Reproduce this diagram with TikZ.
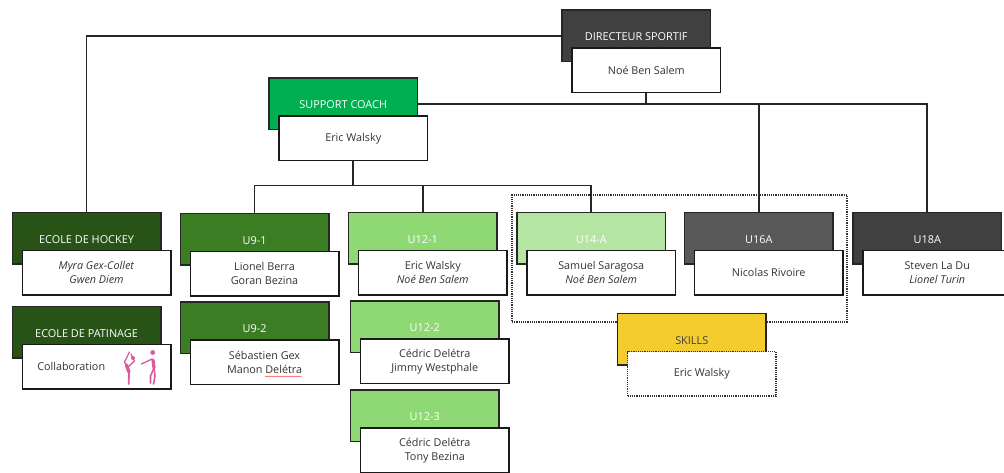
\documentclass[tikz,border=0pt]{standalone}
\usepackage{fontspec}
\setmainfont{Open Sans}
\usetikzlibrary{positioning,decorations.pathmorphing}
\definecolor{sportifgray}{HTML}{404040}
\definecolor{coachgreen}{HTML}{00B050}
\definecolor{ecolegreen}{HTML}{275317}
\definecolor{ninegreen}{HTML}{3B7D23}
\definecolor{twelvegreen}{HTML}{8ED973}
\definecolor{fourteengreen}{HTML}{B4E5A2}
\definecolor{sixteengray}{HTML}{595959}
\definecolor{skillsyellow}{HTML}{F5CC2E}
\definecolor{skatepink}{HTML}{D95AA0}
\definecolor{nametext}{HTML}{333333}
\tikzset{
    role/.style = {
        draw = black!85,
        line width = 1.6pt,
        anchor = north west,
        minimum width = 148.5pt,
        minimum height = 51.5pt,
        outer sep = 0pt,
        inner sep = 0pt,
        text = white,
        text height = 10pt,
        text depth = 0pt,
        font = \fontsize{10.9}{13}\selectfont,
    },
    person/.style = {
        draw = black!90,
        fill = white,
        line width = 1.6pt,
        below right = -13.5pt and -138.5pt of #1,
        minimum width = 148.5pt,
        minimum height = 44.5pt,
        outer sep = 0pt,
        inner sep = 0pt,
        align = center,
        text = nametext,
        font = \fontsize{10.8}{14}\selectfont,
    },
    link/.style = {
        draw = black!85,
        line width = 1.6pt,
    },
    dotted box/.style = {
        draw = black!80,
        line width = 1.2pt,
        densely dotted,
    },
    skate/.style = {
        draw = skatepink,
        line cap = round,
    },
}
\begin{document}
\begin{tikzpicture}[x=1pt,y=-1pt]
            \clip (0,0) rectangle (1004,472);

            \node[dotted box, anchor=north west, minimum width=335pt, minimum height=127pt, outer sep=0pt] (squad) at (512,195) {};

            \node[role, fill=sportifgray] (sportif) at (562,10) {DIRECTEUR SPORTIF};
            \node[person=sportif] (noe) {Noé Ben Salem};
            \node[role, fill=coachgreen] (coach) at (269,78) {SUPPORT COACH};
            \node[person=coach] (eric) {Eric Walsky};

            \node[role, fill=ecolegreen] (hockey) at (12.3,212.3) {ECOLE DE HOCKEY};
            \node[person=hockey] (myra) {\textit{Myra Gex-Collet}\\\textit{Gwen Diem}};
            \node[role, fill=ecolegreen] (patinage) at (12.3,306.3) {ECOLE DE PATINAGE};
            \node[person=patinage, text width=118.5pt, inner xsep=15pt, align=left] (collab) {Collaboration};

            \node[role, fill=ninegreen] (u91) at (180.3,213.3) {U9-1};
            \node[person=u91] (lionel) {Lionel Berra\\Goran Bezina};
            \node[role, fill=ninegreen] (u92) at (180.3,302) {U9-2};
            \node[person=u92] (sebastien) {Sébastien Gex\\Manon Delétra};

            \node[role, fill=twelvegreen] (u121) at (348.5,212.3) {U12-1};
            \node[person=u121] (walsky) {Eric Walsky\\\textit{Noé Ben Salem}};
            \node[role, fill=twelvegreen] (u122) at (350.5,301) {U12-2};
            \node[person=u122] (jimmy) {Cédric Delétra\\Jimmy Westphale};
            \node[role, fill=twelvegreen] (u123) at (350.5,390) {U12-3};
            \node[person=u123] (tony) {Cédric Delétra\\Tony Bezina};

            \node[role, fill=fourteengreen] (u14) at (517,212.3) {U14-A};
            \node[person=u14] (samuel) {Samuel Saragosa\\\textit{Noé Ben Salem}};
            \node[role, fill=sixteengray] (u16) at (684.5,212.3) {U16A};
            \node[person=u16] (nicolas) {Nicolas Rivoire};
            \node[role, fill=sportifgray] (u18) at (853,212.3) {U18A};
            \node[person=u18] (steven) {Steven La Du\\\textit{Lionel Turin}};

            \node[role, fill=skillsyellow, text=black!75] (skills) at (617.5,313.5) {SKILLS};
            \node[person=skills, dotted box, text=nametext] (skillscoach) {Eric Walsky};

            \coordinate (top) at (noe.south |- coach.east);
            \coordinate (split) at ([yshift=-25pt]eric.south);

            \draw[link] (sportif.west) -| (hockey.north);
            \draw[link] (noe.south) -- (top);
            \draw[link] (coach.east) -- (top);
            \draw[link] (top) -| (u16.north);
            \draw[link] (top) -| (u18.north);
            \draw[link] (eric.south) -- (split);
            \draw[link] (split) -| (u91.north);
            \draw[link] (split) -| (u121.north);
            \draw[link] (split) -| (u14.north);

            % spell check mark
            \draw[red!80, line width=0.4pt, decorate, decoration={snake, amplitude=0.4pt, segment length=2pt}] (265,376.5) -- (302,376.5);

            % skaters
            \draw[skate, line width=1.3pt] (129.5,352) -- (124.5,362) -- (127.5,367.5) -- (134.5,361) -- (131,354);
            \draw[skate, line width=3.4pt] (126.5,365) -- (129,372);
            \draw[skate, line width=1.8pt] (129,372) -- (128.7,384);
            \fill[skatepink] (133,358) circle (2pt);
            \fill[skatepink] (152.7,352.5) circle (2.4pt);
            \draw[skate, line width=1.3pt] (141.5,364) -- (152,359);
            \draw[skate, line width=3.2pt] (153,360) -- (154,368);
            \draw[skate, line width=1.6pt] (154,368) -- (150.5,376) -- (150.5,383);
            \draw[skate, line width=1.6pt] (154,368) -- (155,376) -- (153.5,384);
        \end{tikzpicture}
\end{document}
